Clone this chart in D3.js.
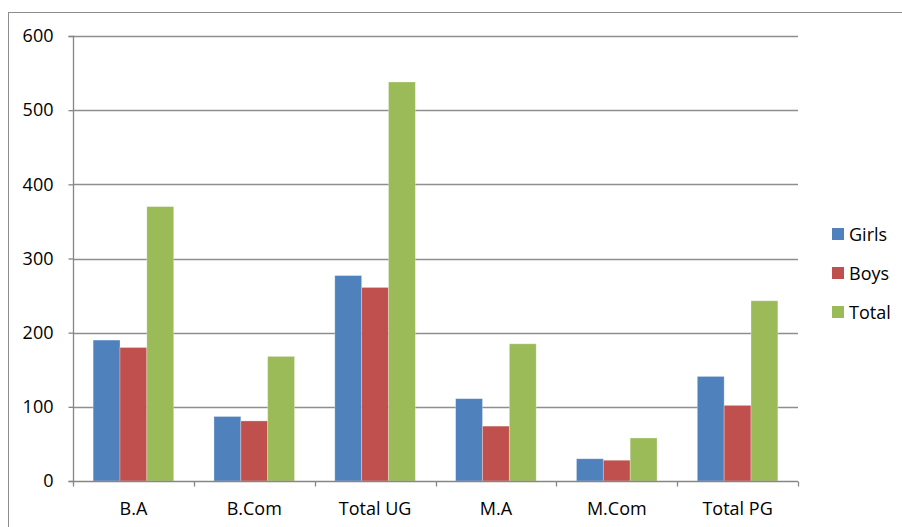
<!DOCTYPE html>
<html>
<head>
<meta charset="utf-8">
<script src="https://cdn.jsdelivr.net/npm/d3@7"></script>
<style>
  html, body { margin: 0; padding: 0; background: #fff; }
  svg { display: block; font-family: "Open Sans", "Liberation Sans", sans-serif; }
</style>
</head>
<body>
<svg id="chart" width="902" height="527"></svg>
<script>
// Enrolment by course
const categories = ["B.A", "B.Com", "Total UG", "M.A", "M.Com", "Total PG"];
const seriesNames = ["Girls", "Boys", "Total"];
const girls = [190, 87, 277, 111, 30, 141];
const boys  = [180, 81, 261, 74, 28, 102];
const total = [370, 168, 538, 185, 58, 243];
const yTicks = [0, 100, 200, 300, 400, 500, 600];
const colors = ["#4F81BD", "#C0504D", "#9BBB59"];

const seriesValues = [girls, boys, total];
const fontSize = 18;

const svg = d3.select("#chart");
const plot = { left: 73, right: 798, top: 36, bottom: 481 };

// chart frame
svg.append("rect")
  .attr("x", 8.5).attr("y", 12.5)
  .attr("width", 920).attr("height", 540)
  .attr("fill", "none").attr("stroke", "#8c8c8c").attr("stroke-width", 1);

const x0 = d3.scaleBand().domain(categories).range([plot.left, plot.right]).paddingInner(0).paddingOuter(0);
const y = d3.scaleLinear().domain([0, 600]).range([plot.bottom, plot.top]);

// horizontal gridlines
svg.append("g").selectAll("line").data(yTicks.filter(d => d > 0)).join("line")
  .attr("x1", plot.left).attr("x2", plot.right)
  .attr("y1", d => Math.round(y(d)) + 0.5).attr("y2", d => Math.round(y(d)) + 0.5)
  .attr("stroke", "#8e8e8e").attr("stroke-width", 1.3);

// bars: 150% gap width between groups
const bw = x0.bandwidth();
const barW = bw / 4.5;
const groupOffset = bw * 0.75 / 4.5;
const groups = svg.append("g").selectAll("g").data(categories).join("g")
  .attr("transform", d => `translate(${x0(d)},0)`);
groups.selectAll("rect")
  .data((c, i) => seriesValues.map((vals, s) => ({ s, v: vals[i] })))
  .join("rect")
  .attr("x", d => groupOffset + d.s * barW)
  .attr("y", d => y(d.v))
  .attr("width", barW)
  .attr("height", d => y(0) - y(d.v))
  .attr("fill", d => colors[d.s])
  .attr("stroke", "rgba(255,255,255,0.35)")
  .attr("stroke-width", 0.8);

// y axis
const yAxis = d3.axisLeft(y).tickValues(yTicks).tickSize(5).tickPadding(15);
const gy = svg.append("g").attr("transform", `translate(${plot.left + 0.5},0)`).call(yAxis);
gy.select(".domain").attr("stroke", "#868686").attr("stroke-width", 1.3).attr("d", `M-5,${plot.top + 0.5}H0V${plot.bottom + 0.5}H-5`);
gy.selectAll(".tick line").attr("stroke", "#868686").attr("stroke-width", 1.3);
gy.selectAll(".tick text").attr("font-size", fontSize).attr("fill", "#000")
  .attr("font-family", "'Open Sans', 'Liberation Sans', sans-serif");

// x axis with tick marks at category boundaries
const gx = svg.append("g").attr("transform", `translate(0,${plot.bottom + 0.5})`);
gx.append("line").attr("x1", plot.left).attr("x2", plot.right)
  .attr("stroke", "#868686").attr("stroke-width", 1.3);
const boundaries = categories.map(c => x0(c)).concat([plot.right]);
gx.selectAll("line.b").data(boundaries).join("line").attr("class", "b")
  .attr("x1", d => Math.round(d) + 0.5).attr("x2", d => Math.round(d) + 0.5)
  .attr("y1", 0).attr("y2", 5)
  .attr("stroke", "#868686").attr("stroke-width", 1.3);
gx.selectAll("text").data(categories).join("text")
  .attr("x", d => x0(d) + bw / 2)
  .attr("y", 33)
  .attr("text-anchor", "middle")
  .attr("font-size", fontSize).attr("fill", "#000")
  .text(d => d);

// legend
const legend = svg.append("g").attr("transform", "translate(832,0)");
const li = legend.selectAll("g").data(seriesNames).join("g")
  .attr("transform", (d, i) => `translate(0,${234 + i * 39})`);
li.append("rect").attr("x", 0).attr("y", -6).attr("width", 12).attr("height", 12)
  .attr("fill", (d, i) => colors[i]);
li.append("text").attr("x", 17).attr("y", 6.5)
  .attr("font-size", fontSize).attr("fill", "#000").text(d => d);
</script>
</body>
</html>
